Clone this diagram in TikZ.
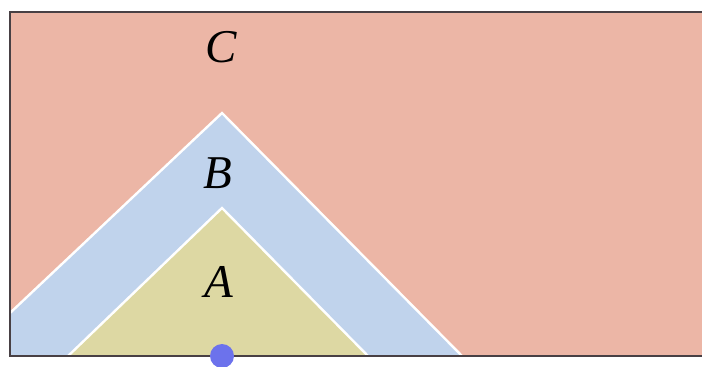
\documentclass[tikz,border=0pt]{standalone}
\usepackage{fontspec}
\setmainfont{Liberation Serif}
\usepackage{tikz}
\usetikzlibrary{positioning}

\definecolor{regionC}{RGB}{236,182,166}
\definecolor{regionB}{RGB}{192,211,236}
\definecolor{regionA}{RGB}{221,216,163}
\definecolor{edgegray}{RGB}{72,64,68}
\definecolor{dotblue}{RGB}{108,114,236}

\begin{document}
\begin{tikzpicture}[
            x=1pt, y=-1pt,
            region/.style={draw=white, line width=2.4pt, line join=miter},
            lbl/.style={inner sep=0pt, font=\fontsize{47}{50}\selectfont\itshape}
        ]
            \useasboundingbox (0,0) rectangle (702,367);
            % background region C
            \fill[regionC] (10,12) rectangle (702,356);
            % nested regions B and A
            \begin{scope}
                \clip (10,12) rectangle (702,356);
                \filldraw[region, fill=regionB] (10,313) -- (222,113) -- (464,358) -- (10,358);
                \filldraw[region, fill=regionA] (66,358) -- (222,208) -- (370,358);
            \end{scope}
            % frame
            \draw[edgegray, line width=2.4pt] (702,12) -- (10,12) -- (10,356) -- (702,356);

            \node[lbl] (c) at (221,47) {C};
            \node[lbl] (b) at (218,173) {B};
            \node[lbl] (a) at (219,282) {A};
            \node[circle, fill=dotblue, minimum size=24pt, inner sep=0pt] (pt) at (222,356) {};
        \end{tikzpicture}
\end{document}
